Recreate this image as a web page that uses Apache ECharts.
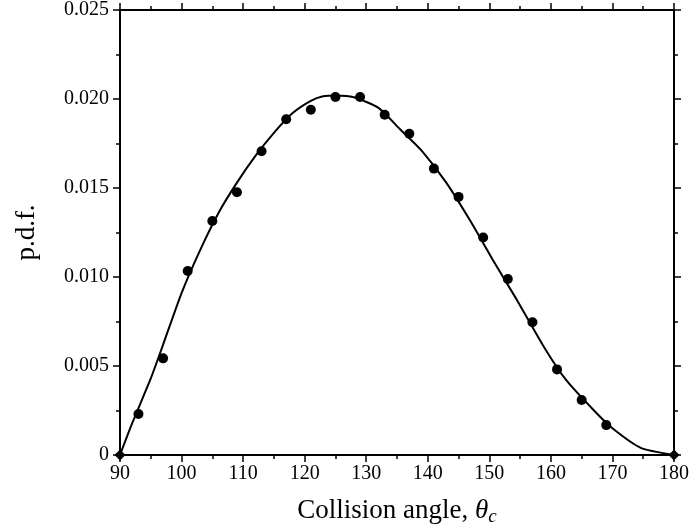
<!DOCTYPE html>
<html>
<head>
<meta charset="utf-8">
<script src="https://cdn.jsdelivr.net/npm/echarts@6/dist/echarts.min.js"></script>
<style>
html,body{margin:0;padding:0;background:#fff;}
#chart{width:694px;height:531px;}
</style>
</head>
<body>
<div id="chart"></div>
<script>
// Measured histogram points (collision angle, p.d.f.)
var angles = [93, 97, 101, 105, 109, 113, 117, 121, 125, 129, 133, 137, 141, 145, 149, 153, 157, 161, 165, 169];
var pdfValues = [0.0023, 0.00543, 0.01034, 0.01315, 0.01476, 0.01706, 0.01886, 0.0194, 0.02011, 0.02011,
                 0.01912, 0.01805, 0.01609, 0.0145, 0.01222, 0.00989, 0.00746, 0.00481, 0.00309, 0.00168];
// Theoretical curve
var curveAngles = [90, 92, 95, 97, 100, 103, 106, 109, 112, 115, 118, 121, 123, 125, 128, 132, 135.5, 139, 143, 147, 150.5, 154.5, 159, 162.5, 167, 170, 174.6, 180];
var curvePdf = [0, 0.0018, 0.0043, 0.0062, 0.0091, 0.0115, 0.0136, 0.0153, 0.0168, 0.0181, 0.0192, 0.0199, 0.02015, 0.0202, 0.0201, 0.0195, 0.0183, 0.0171, 0.0153, 0.0131, 0.0110, 0.0087, 0.0060, 0.0042, 0.0025, 0.0015, 0.0004, 0];
// End markers
var endAngles = [90, 180];
var endPdf = [0, 0];

var xMin = 90, xMax = 180, xStep = 10;
var yMin = 0, yMax = 0.025, yStep = 0.005;

function pairs(xs, ys){ return xs.map(function(x,i){ return [x, ys[i]]; }); }

var font = '"Liberation Serif", "DejaVu Serif", serif';
var axisLine = {show:true, onZero:false, lineStyle:{color:'#000', width:2}};
var tick = {show:true, inside:false, length:7, lineStyle:{color:'#000', width:1.5}};
var minor = {show:true, splitNumber:2, length:4, lineStyle:{color:'#000', width:1.5}};

var chart = echarts.init(document.getElementById('chart'));
chart.setOption({
  backgroundColor:'#fff',
  animation:false,
  grid:{left:120, right:20, top:10, bottom:76, containLabel:false},
  xAxis:[
    {type:'value', position:'bottom', min:xMin, max:xMax, interval:xStep,
     axisLine:axisLine, axisTick:tick, minorTick:minor, splitLine:{show:false},
     axisLabel:{color:'#000', fontFamily:font, fontSize:20, margin:9},
     name:'{a|Collision angle, }{i|θ}{s|c}', nameLocation:'middle', nameGap:40,
     nameTextStyle:{
       rich:{
         a:{fontFamily:font, fontSize:27, color:'#000'},
         i:{fontFamily:font, fontSize:27, fontStyle:'italic', color:'#000'},
         s:{fontFamily:font, fontSize:19, fontStyle:'italic', color:'#000', padding:[12,0,0,0]}
       }
     }},
    {type:'value', position:'top', min:xMin, max:xMax, interval:xStep,
     axisLine:axisLine, axisTick:tick, minorTick:minor, splitLine:{show:false},
     axisLabel:{show:false}}
  ],
  yAxis:[
    {type:'value', position:'left', min:yMin, max:yMax, interval:yStep,
     axisLine:axisLine, axisTick:tick, minorTick:minor, splitLine:{show:false},
     axisLabel:{color:'#000', fontFamily:font, fontSize:20, margin:11,
       formatter:function(v){ return v === 0 ? '0' : v.toFixed(3); }},
     name:'p.d.f.', nameLocation:'middle', nameGap:80, nameRotate:90,
     nameTextStyle:{fontFamily:font, fontSize:27, color:'#000'}},
    {type:'value', position:'right', min:yMin, max:yMax, interval:yStep,
     axisLine:axisLine, axisTick:tick, minorTick:minor, splitLine:{show:false},
     axisLabel:{show:false}}
  ],
  series:[
    {type:'line', data:pairs(curveAngles, curvePdf), showSymbol:false, smooth:0.2,
     lineStyle:{color:'#000', width:2}, z:3},
    {type:'scatter', data:pairs(angles, pdfValues), symbol:'circle', symbolSize:10,
     itemStyle:{color:'#000', opacity:1}, z:4},
    {type:'scatter', data:pairs(endAngles, endPdf), symbol:'diamond', symbolSize:11,
     itemStyle:{color:'#000', opacity:1}, z:5, clip:false}
  ]
});
</script>
</body>
</html>
